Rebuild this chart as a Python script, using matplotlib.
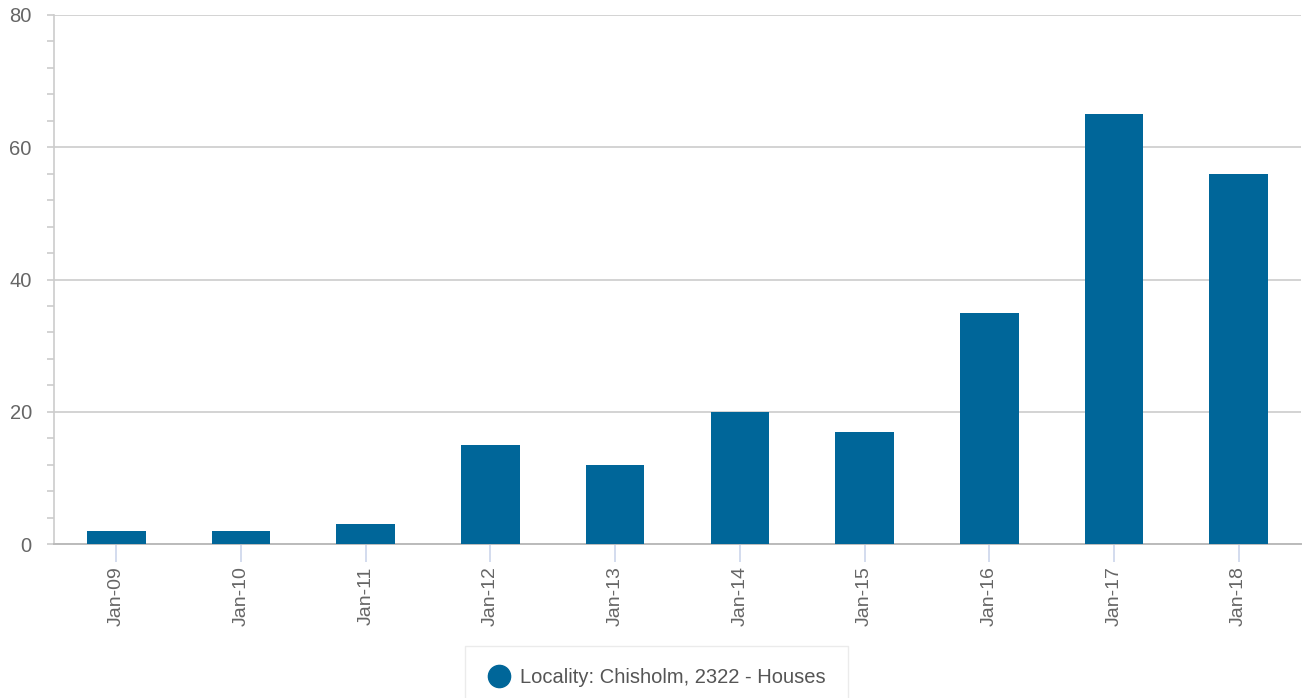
import numpy as np
import matplotlib.pyplot as plt
from matplotlib.ticker import MultipleLocator
from matplotlib.lines import Line2D

categories = ["Jan-09", "Jan-10", "Jan-11", "Jan-12", "Jan-13",
              "Jan-14", "Jan-15", "Jan-16", "Jan-17", "Jan-18"]
values = [2, 2, 3, 15, 12, 20, 17, 35, 65, 56]
series_name = "Locality: Chisholm, 2322 - Houses"

plt.rcParams["font.family"] = ["Liberation Sans", "DejaVu Sans"]

fig = plt.figure(figsize=(13.02, 6.98), dpi=100)
ax = fig.add_axes([54 / 1302, 1 - 544 / 698, (1301 - 54) / 1302, (544 - 15) / 698])

x = np.arange(len(categories))
ax.bar(x, values, width=0.47, color="#006699", zorder=3)

ax.set_xlim(-0.5, len(categories) - 0.5)
ax.set_ylim(0, 80)
ax.yaxis.set_major_locator(MultipleLocator(20))
ax.yaxis.set_minor_locator(MultipleLocator(4))
ax.grid(axis="y", which="major", color="#cccccc", linewidth=1.2, zorder=0)

for side in ["top", "right"]:
    ax.spines[side].set_visible(False)
ax.spines["left"].set_color("#cccccc")
ax.spines["left"].set_linewidth(1.2)
ax.spines["bottom"].set_color("#bbbbbb")
ax.spines["bottom"].set_linewidth(1.4)

ax.set_xticks(x)
ax.set_xticklabels(categories, rotation=90)
ax.tick_params(axis="x", length=13, width=1.2, color="#ccd6eb",
               labelcolor="#666666", labelsize=14, pad=3)
ax.tick_params(axis="y", which="major", length=5, width=1.2, color="#cccccc",
               labelcolor="#666666", labelsize=14.5, pad=11)
ax.tick_params(axis="y", which="minor", length=5, width=1.2, color="#cccccc")

handle = Line2D([], [], marker="o", linestyle="none", markersize=16,
                markerfacecolor="#006699", markeredgecolor="#006699")
leg = fig.legend([handle], [series_name], loc="upper center",
                 bbox_to_anchor=(656.5 / 1302, 1 - 646 / 698), frameon=True,
                 fancybox=False, fontsize=14.5, handletextpad=0.45,
                 borderpad=1.1, borderaxespad=0, handlelength=1.2)
leg.get_frame().set_edgecolor("#e6e6e6")
for t in leg.get_texts():
    t.set_color("#555555")

fig.savefig("out.png", dpi=100)
